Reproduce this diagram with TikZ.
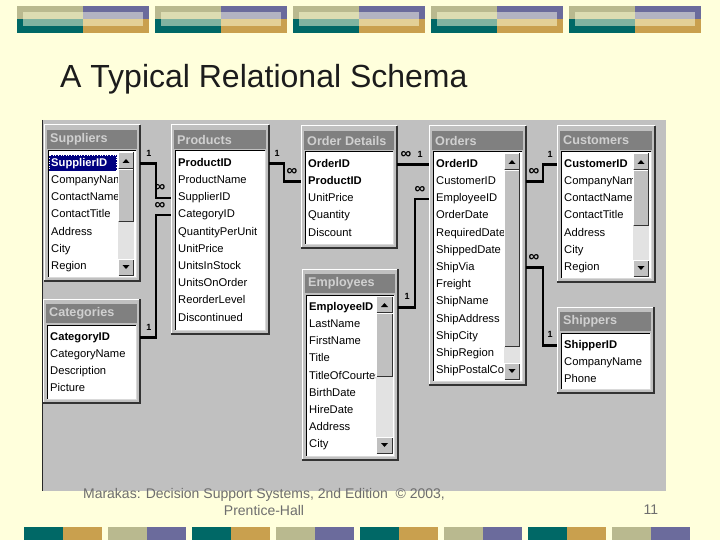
\documentclass[tikz,border=0pt]{standalone}
\usepackage{fontspec}
\setmainfont{Liberation Sans}
\usetikzlibrary{calc}
\definecolor{bg}{HTML}{FFFFDC}
\definecolor{khaki}{HTML}{B9B98F}
\definecolor{purp}{HTML}{6B6B9C}
\definecolor{bteal}{HTML}{006866}
\definecolor{gold}{HTML}{C9A04E}
\definecolor{lkhaki}{HTML}{DCDCB2}
\definecolor{lpurp}{HTML}{B3B3C2}
\definecolor{lteal}{HTML}{80B3A0}
\definecolor{lgold}{HTML}{E3D096}
\definecolor{win}{HTML}{C0C0C0}
\definecolor{bar}{HTML}{808080}
\definecolor{bartext}{HTML}{D0D0D0}
\definecolor{track}{HTML}{E2E2E2}
\definecolor{navy}{HTML}{000080}
\definecolor{foot}{HTML}{6E6E6E}
\definecolor{ttl}{HTML}{1C1C1C}
\tikzset{
  winframe/.style={anchor=north west, fill=win, inner sep=0pt, outer sep=0pt},
  listbox/.style={anchor=north west, fill=white, inner sep=0pt, outer sep=0pt},
  titletext/.style={anchor=west, inner sep=0pt, text=bartext, font=\bfseries\fontsize{12.6}{14}\selectfont},
  field/.style={anchor=west, inner sep=0pt, text height=8pt, text depth=2.5pt, font=\fontsize{11.2}{12}\selectfont},
  rel/.style={line width=2.6pt, black},
  one/.style={inner sep=0pt, font=\bfseries\fontsize{9}{9}\selectfont},
  many/.style={inner sep=0pt, font=\bfseries\fontsize{15}{15}\selectfont},
}
\newcommand\tbl[6]{%
  \node[winframe, minimum width=#4pt, minimum height=#5pt] (#1) at (#2,#3) {};
  \draw[white, line width=1pt] (#1.south west) |- (#1.north east);
  \draw[black!80, line width=1.2pt] (#1.south west) -| (#1.north east);
  \fill[bar] (#2+3,#3+5) rectangle (#2+#4-3,#3+24);
  \node[titletext] (#1T) at (#2+6,#3+14.5) {#6};
  \node[listbox, minimum width={(#4-8)*1pt}, minimum height={(#5-30)*1pt}] (#1L) at (#2+4,#3+26) {};
  \draw[black, line width=1pt] (#1L.south west) |- (#1L.north east);
  \draw[black!15, line width=1pt] (#1L.south west) -| (#1L.north east);
}
\newcommand\fields[2]{%
  \foreach \f [count=\i from 0] in {#2}
    \node[field] (#1-\i) at ($(#1L.north west)+(3,12.5+17.2*\i)$) {\f};
}
\newcommand\btn[4]{%
  \fill[win] (#1,#2) rectangle (#3,#4);
  \draw[white, line width=0.8pt] (#1+.5,#4-.5) |- (#3-.5,#2+.5);
  \draw[black!80, line width=0.8pt] (#1+.5,#4-.5) -| (#3-.5,#2+.5);
}
\newcommand\sbar[5]{%
  \fill[track] (#1,#2) rectangle (#3,#4);
  \btn{#1}{#2}{#3}{#2+17}
  \btn{#1}{#2+17}{#3}{#5}
  \btn{#1}{#4-17}{#3}{#4}
  \fill[black] ({(#1+#3)/2-3.5},#2+11) -- ({(#1+#3)/2+3.5},#2+11) -- ({(#1+#3)/2},#2+7) -- cycle;
  \fill[black] ({(#1+#3)/2-3.5},#4-11) -- ({(#1+#3)/2+3.5},#4-11) -- ({(#1+#3)/2},#4-7) -- cycle;
}
\begin{document}
\begin{tikzpicture}[x=1pt,y=-1pt]
\useasboundingbox (0,0) rectangle (720,540);
\fill[bg] (0,0) rectangle (720,540);
% top banner
\foreach \L in {17,155,293,431,569}{
  \fill[khaki] (\L,6) rectangle (\L+66,19.5);
  \fill[purp] (\L+66,6) rectangle (\L+132,19.5);
  \fill[bteal] (\L,19.5) rectangle (\L+66,33);
  \fill[gold] (\L+66,19.5) rectangle (\L+132,33);
  \fill[lkhaki] (\L+6,12) rectangle (\L+66,19.5);
  \fill[lpurp] (\L+66,12) rectangle (\L+126,19.5);
  \fill[lteal] (\L+6,19.5) rectangle (\L+66,26);
  \fill[lgold] (\L+66,19.5) rectangle (\L+126,26);
}
% bottom strip
\foreach \L/\a/\b in {24/bteal/gold,108/khaki/purp,192/bteal/gold,276/khaki/purp,360/bteal/gold,444/khaki/purp,528/bteal/gold,612/khaki/purp}{
  \fill[\a] (\L,527) rectangle (\L+39,540);
  \fill[\b] (\L+39,527) rectangle (\L+78,540);
}
% screenshot area
\fill[win] (42,120) rectangle (666,491);
\draw[black!85, line width=0.8pt] (42.4,120) -- (42.4,491);

% tables
\tbl{sup}{44}{125}{96}{156}{Suppliers}
\fill[navy] (49,155) rectangle (117,171.5);
\draw[white, dotted, line width=0.6pt] (49.5,155.5) rectangle (116.5,171);
\fields{sup}{\textcolor{white}{\textbf{SupplierID}}, CompanyNam, ContactName, ContactTitle, Address, City, Region}
\sbar{118}{152}{134}{276}{222}

\tbl{prod}{171}{125}{98}{209}{Products}
\fields{prod}{\textbf{ProductID}, ProductName, SupplierID, CategoryID, QuantityPerUnit, UnitPrice, UnitsInStock, UnitsOnOrder, ReorderLevel, Discontinued}

\tbl{od}{301}{126}{96}{122}{Order Details}
\fields{od}{\textbf{OrderID}, \textbf{ProductID}, UnitPrice, Quantity, Discount}

\tbl{ord}{429}{126}{97}{259}{Orders}
\fields{ord}{\textbf{OrderID}, CustomerID, EmployeeID, OrderDate, RequiredDate, ShippedDate, ShipVia, Freight, ShipName, ShipAddress, ShipCity, ShipRegion, ShipPostalCoc}
\sbar{504}{153}{520}{380}{347}

\tbl{cust}{557}{126}{98}{156}{Customers}
\fields{cust}{\textbf{CustomerID}, CompanyNam, ContactName, ContactTitle, Address, City, Region}
\sbar{633}{153}{649}{277}{226}

\tbl{cat}{43}{299}{97}{104}{Categories}
\fields{cat}{\textbf{CategoryID}, CategoryName, Description, Picture}

\tbl{emp}{302}{269}{96}{191}{Employees}
\fields{emp}{\textbf{EmployeeID}, LastName, FirstName, Title, TitleOfCourtes, BirthDate, HireDate, Address, City}
\sbar{376}{296}{393}{454}{377}

\tbl{ship}{557}{307}{97}{86}{Shippers}
\fields{ship}{\textbf{ShipperID}, CompanyName, Phone}

% junction coordinates
\coordinate (j1) at (156,0);
\coordinate (j2) at (284,0);
\coordinate (j3) at (415,0);
\coordinate (j4) at (543,0);

% relationships
\draw[rel] (sup.east |- sup-0) -| (j1 |- prod-2) -- (prod.west |- prod-2);
\draw[rel] (cat.east |- cat-0) -| (j1 |- prod-3) -- (prod.west |- prod-3);
\draw[rel] (prod.east |- prod-0) -| (j2 |- od-1) -- (od.west |- od-1);
\draw[rel] (od.east |- od-0) -- (ord.west |- ord-0);
\draw[rel] (emp.east |- emp-0) -| (j3 |- ord-2) -- (ord.west |- ord-2);
\draw[rel] (ord.east |- ord-1) -| (j4 |- cust-0) -- (cust.west |- cust-0);
\draw[rel] (ord.east |- ord-6) -| (j4 |- ship-0) -- (ship.west |- ship-0);

% cardinality labels
\node[one] (l1) at (149,153) {1};
\node[many] (m1) at (160,188) {∞};
\node[one] (l2) at (149,327) {1};
\node[many] (m2) at (160,206) {∞};
\node[one] (l3) at (277,153) {1};
\node[many] (m3) at (292,172) {∞};
\node[many] (m4) at (406,155) {∞};
\node[one] (l4) at (420,154) {1};
\node[many] (m5) at (420,190) {∞};
\node[one] (l5) at (407,296) {1};
\node[many] (m6) at (534,172) {∞};
\node[one] (l6) at (550,154) {1};
\node[many] (m7) at (534,258) {∞};
\node[one] (l7) at (550,334) {1};

% title and footer
\node[anchor=west, inner sep=0pt, text=ttl, font=\fontsize{32}{34}\selectfont] (title) at (60,79) {A Typical Relational Schema};
\node[inner sep=0pt, text=foot, align=center, font=\fontsize{14}{17}\selectfont] (foot) at (264,502) {Marakas: Decision Support Systems, 2nd Edition\ \ © 2003,\\Prentice-Hall};
\node[inner sep=0pt, text=foot, font=\fontsize{14}{17}\selectfont] (page) at (651,510) {11};
\end{tikzpicture}
\end{document}
